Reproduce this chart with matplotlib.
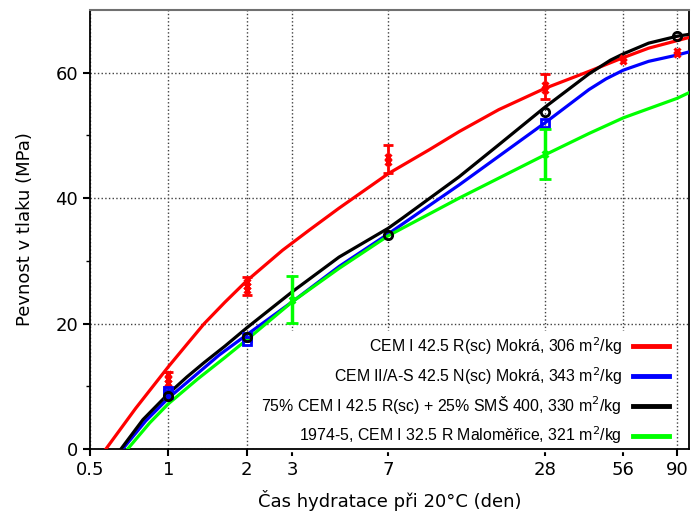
import matplotlib
matplotlib.use("Agg")
import matplotlib.pyplot as plt
from matplotlib.ticker import FixedLocator, NullLocator, FixedFormatter

# ---- fitted curves ----
red_x = [0.576, 0.75, 1, 1.18, 1.375, 1.65, 2, 2.75, 3.48, 4.53, 7, 10.05, 13.1, 18.6, 28, 41.3, 56, 70, 90, 100]
red_y = [0, 6.5, 13.1, 16.7, 20.0, 23.4, 26.8, 31.7, 34.9, 38.4, 43.9, 47.7, 50.6, 54.1, 57.5, 60.2, 62.4, 63.9, 65.1, 65.6]

blue_x = [0.668, 0.82, 1, 1.3, 1.57, 2, 3, 4.53, 7, 13.1, 28, 41.3, 48, 56, 70, 90, 100]
blue_y = [0, 4.5, 8.1, 12.1, 15.0, 18.2, 23.5, 29.1, 34.3, 42.1, 52.0, 57.3, 59.0, 60.4, 61.8, 62.8, 63.3]

black_x = [0.658, 0.8, 1, 1.18, 1.375, 1.65, 2, 3, 4.53, 7, 7.93, 13.1, 18.6, 28, 41.3, 50, 56, 70, 90, 100]
black_y = [0, 4.7, 8.8, 11.5, 13.8, 16.4, 19.3, 25.1, 30.6, 35.2, 36.8, 43.4, 48.5, 54.5, 59.8, 62.0, 63.0, 64.7, 65.8, 66.1]

green_x = [0.698, 0.85, 1, 1.3, 1.64, 2, 3, 4.53, 7, 13.1, 28, 41.3, 56, 90, 100]
green_y = [0, 4.2, 7.2, 11.2, 14.5, 17.4, 23.5, 28.8, 34.0, 40.0, 46.9, 50.3, 52.8, 55.9, 56.8]

# ---- measured points ----
red_pt_days = [1, 1, 1, 2, 2, 2, 7, 7, 28, 28, 56, 56, 90, 90]
red_pt_vals = [11.9, 11.2, 10.5, 26.6, 26.0, 25.4, 46.6, 45.8, 58.1, 57.3, 62.3, 61.8, 63.4, 63.0]
red_err_days = [1, 2, 7, 28]
red_err_mean = [11.1, 26.05, 46.25, 57.75]
red_err_half = [1.2, 1.45, 2.25, 2.0]

blue_pt_days = [1, 1, 2, 2, 28]
blue_pt_vals = [9.3, 8.8, 17.9, 17.3, 52.0]

black_pt_days = [1, 2, 7, 28, 90]
black_pt_vals = [8.4, 17.9, 34.2, 53.8, 65.9]

green_pt_days = [3, 28]
green_pt_vals = [23.8, 47.0]
green_err_half = [3.75, 3.95]

labels = [
    "CEM I 42.5 R(sc) Mokrá, 306 m$^2$/kg",
    "CEM II/A-S 42.5 N(sc) Mokrá, 343 m$^2$/kg",
    "75% CEM I 42.5 R(sc) + 25% SMŠ 400, 330 m$^2$/kg",
    "1974-5, CEM I 32.5 R Maloměřice, 321 m$^2$/kg",
]
xticks = [0.5, 1, 2, 3, 7, 28, 56, 90]
xticklabels = ["0.5", "1", "2", "3", "7", "28", "56", "90"]
yticks = [0, 20, 40, 60]
yminor = [10, 30, 50]

RED, BLUE, BLACK, GREEN = "#ff0000", "#0000ff", "#000000", "#00ff00"

plt.rcParams['font.family'] = ['DejaVu Sans']
fig = plt.figure(figsize=(6.91, 5.21), dpi=100)
ax = fig.add_axes([0.130, 0.138, 0.867, 0.843])
ax.set_xscale('log')

lw = 2.3
h1, = ax.plot(red_x, red_y, color=RED, lw=lw, zorder=3, solid_joinstyle='round')
h2, = ax.plot(blue_x, blue_y, color=BLUE, lw=lw, zorder=3, solid_joinstyle='round')
h3, = ax.plot(black_x, black_y, color=BLACK, lw=lw, zorder=3, solid_joinstyle='round')
h4, = ax.plot(green_x, green_y, color=GREEN, lw=lw, zorder=3, solid_joinstyle='round')

ax.errorbar(red_err_days, red_err_mean, yerr=red_err_half, fmt='none', ecolor=RED,
            elinewidth=2, capsize=3.5, capthick=2, zorder=4)
ax.plot(red_pt_days, red_pt_vals, ls='none', marker='x', ms=5, mew=2.2, color=RED, zorder=4)
ax.plot(blue_pt_days, blue_pt_vals, ls='none', marker='s', ms=6, mew=2, mfc='none', mec=BLUE, zorder=4)
ax.plot(black_pt_days, black_pt_vals, ls='none', marker='o', ms=6, mew=2, mfc='none', mec=BLACK, zorder=5)
ax.errorbar(green_pt_days, green_pt_vals, yerr=green_err_half, fmt='x', color=GREEN, ms=5, mew=2,
            elinewidth=2.5, capsize=4, capthick=2.5, zorder=4)

ax.set_xlim(0.5, 100)
ax.set_ylim(0, 70)
ax.xaxis.set_major_locator(FixedLocator(xticks))
ax.xaxis.set_major_formatter(FixedFormatter(xticklabels))
ax.xaxis.set_minor_locator(NullLocator())
ax.yaxis.set_major_locator(FixedLocator(yticks))
ax.yaxis.set_minor_locator(FixedLocator(yminor))

ax.tick_params(axis='both', which='major', labelsize=13, length=5, width=1.5, direction='out')
ax.tick_params(axis='y', which='minor', length=3, width=1)
ax.tick_params(top=False, right=False)

ax.grid(True, which='major', ls=':', color='0.25', lw=1, zorder=0)
ax.set_axisbelow(True)
for s in ['left', 'bottom', 'right']:
    ax.spines[s].set_color('black')
    ax.spines[s].set_linewidth(1.3)
ax.spines['top'].set_color('#707070')
ax.spines['top'].set_linewidth(1.5)

ax.set_xlabel("Čas hydratace při 20°C (den)", fontsize=13, labelpad=8)
ax.set_ylabel("Pevnost v tlaku (MPa)", fontsize=13, labelpad=15)

leg = ax.legend([h1, h2, h3, h4], labels, loc='lower right', markerfirst=False,
                frameon=True, framealpha=1, edgecolor='white', facecolor='white',
                fancybox=False, handlelength=2.3, handletextpad=0.7, labelspacing=0.5,
                borderpad=0.3, borderaxespad=0.0, bbox_to_anchor=(0.975, -0.004),
                prop={'family': 'Liberation Sans', 'size': 11.4})
for l in leg.get_lines():
    l.set_linewidth(3.5)
leg.set_zorder(2)

fig.savefig("out.png", dpi=100)
